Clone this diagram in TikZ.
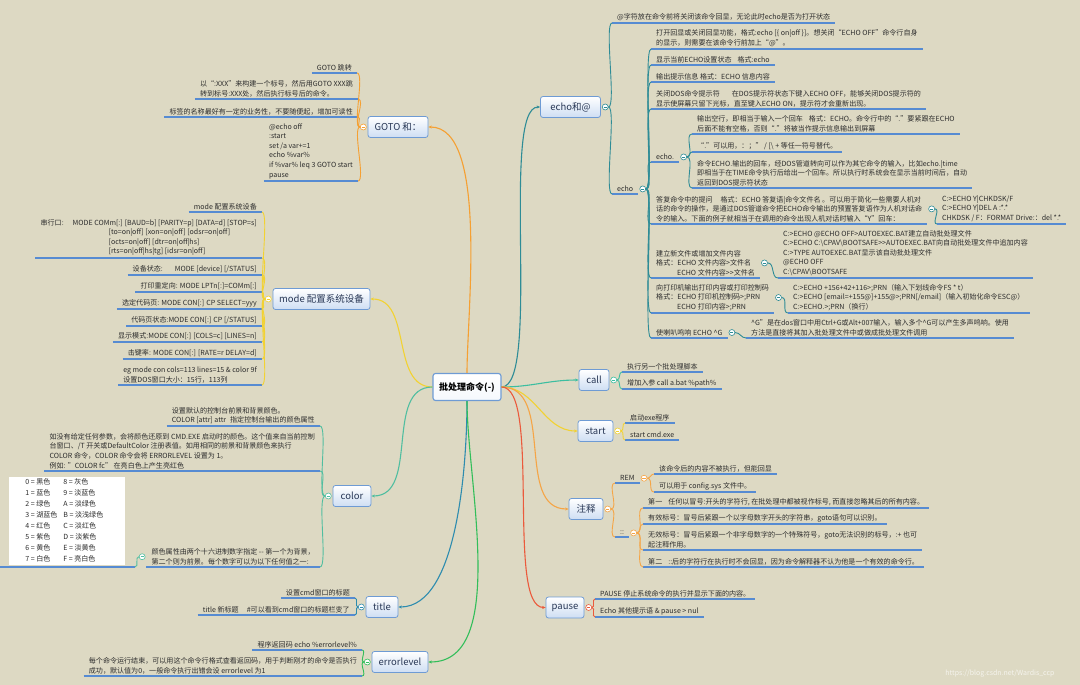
\documentclass[tikz,border=0pt]{standalone}
\usepackage{fontspec}
\setmainfont{Noto Sans CJK SC}
\usepackage{tikz}
\usetikzlibrary{positioning,arrows.meta}
\definecolor{bgcol}{RGB}{221,217,195}
\definecolor{ulcol}{RGB}{86,139,210}
\definecolor{boxline}{RGB}{110,155,212}
\definecolor{boxfill}{RGB}{206,222,243}
\definecolor{boxtext}{RGB}{40,55,85}
\definecolor{txtcol}{RGB}{45,45,45}
\definecolor{cecho}{RGB}{46,140,150}
\definecolor{cgoto}{RGB}{245,160,50}
\definecolor{cmode}{RGB}{242,210,50}
\definecolor{ccolor}{RGB}{80,190,160}
\definecolor{ctitle}{RGB}{45,140,175}
\definecolor{cerr}{RGB}{50,190,90}
\definecolor{ccall}{RGB}{60,190,160}
\definecolor{cstart}{RGB}{242,210,50}
\definecolor{cnote}{RGB}{245,165,70}
\definecolor{cpause}{RGB}{235,90,60}
\tikzset{
  topic/.style={draw=boxline,line width=0.8pt,rounded corners=2.5pt,top color=white,bottom color=boxfill,text=boxtext,font=\fontsize{9.5}{11}\selectfont,minimum height=21pt,inner sep=2pt},
  root/.style={topic,line width=1.1pt,bottom color=white!80!boxfill,text=black,font=\bfseries\fontsize{9}{11}\selectfont,minimum width=68pt,minimum height=27pt},
  leaf/.style={font=\fontsize{7.05}{9.6}\selectfont,text=txtcol,align=left,inner xsep=5pt,inner ysep=2pt,append after command={(\tikzlastnode.south west) edge[uline] (\tikzlastnode.south east)}},
  rleaf/.style={leaf,anchor=south west},
  lleaf/.style={leaf,anchor=south east},
  uline/.style={draw=ulcol,line width=1.1pt},
  fold/.style={circle,draw=#1,fill=white,line width=0.6pt,minimum size=6pt,inner sep=0pt,path picture={\draw[#1,line width=0.5pt] ([xshift=-1.6pt]path picture bounding box.center) -- ([xshift=1.6pt]path picture bounding box.center);}},
  br/.style={draw=#1,line width=0.9pt},
  trunk/.style={br=#1,line width=1.1pt,-{Stealth[length=3.5pt,width=3pt]}},
  rkid/.style={out=0,in=180,max distance=8pt},
  lkid/.style={out=180,in=0,max distance=8pt},
}

\begin{document}
\begin{tikzpicture}[x=1pt,y=1pt]
\fill[bgcol] (0,0) rectangle (1080,-685);
\useasboundingbox (0,0) rectangle (1080,-685);

\node[root] (ctr) at (467,-387) {批处理命令(-)};

\node[topic,minimum width=60pt] (echo) at (570.5,-107) {echo和@};
\node[topic,minimum width=60pt] (goto) at (398,-127) {GOTO 和：};
\node[topic,minimum width=97pt] (mode) at (321.5,-299) {mode 配置系统设备};
\node[topic,minimum width=38pt] (color) at (352,-496) {color};
\node[topic,minimum width=32pt] (title) at (382,-607) {title};
\node[topic,minimum width=56pt] (errlv) at (400,-662) {errorlevel};
\node[topic,minimum width=30pt] (call) at (594,-380) {call};
\node[topic,minimum width=35pt] (start) at (595.5,-431) {start};
\node[topic,minimum width=34pt] (note) at (586,-509) {注释};
\node[topic,minimum width=38pt] (pause) at (565,-607.5) {pause};

\draw[trunk=cecho] (ctr.east) to[out=0,in=180,max distance=40pt] (echo.west);
\draw[trunk=cgoto] (ctr.north) to[out=90,in=0,max distance=60pt] (goto.east);
\draw[trunk=cmode] (ctr.west) to[out=180,in=0] (mode.east);
\draw[trunk=ccolor] (ctr.west) to[out=180,in=0] (color.east);
\draw[trunk=ctitle] (ctr.south) to[out=-90,in=0,max distance=60pt] (title.east);
\draw[trunk=cerr] (ctr.south) to[out=-90,in=0,max distance=80pt] (errlv.east);
\draw[trunk=ccall] (ctr.east) to[out=0,in=180] (call.west);
\draw[trunk=cstart] (ctr.east) to[out=0,in=180] (start.west);
\draw[trunk=cnote] (ctr.east) to[out=0,in=180] (note.west);
\draw[trunk=cpause] (ctr.east) to[out=0,in=180,max distance=40pt] (pause.west);

\node[fold=cecho,right=1pt of echo] (fecho) {};
\node[fold=cgoto,left=1pt of goto] (fgoto) {};
\node[fold=cmode,left=1pt of mode] (fmode) {};
\node[fold=ccolor,left=1pt of color] (fcolor) {};
\node[fold=ctitle,left=1pt of title] (ftitle) {};
\node[fold=cerr,left=1pt of errlv] (ferr) {};
\node[fold=ccall,right=1pt of call] (fcall) {};
\node[fold=cstart,right=1pt of start] (fstart) {};
\node[fold=cnote,right=1pt of note] (fnote) {};
\node[fold=cpause,right=1pt of pause] (fpause) {};

% GOTO
\node[lleaf] (g1) at (357,-73) {GOTO 跳转};
\node[lleaf] (g2) at (358,-99) {以“:XXX”来构建一个标号，然后用GOTO XXX跳\\转到标号:XXX处，然后执行标号后的命令。};
\node[lleaf] (g3) at (358,-117) {标签的名称最好有一定的业务性，不要随便起，增加可读性};
\node[lleaf] (g4) at (358,-181) {@echo off\\:start\\set /a var+=1\\echo \%var\%\\if \%var\% leq 3 GOTO start\\pause};
\foreach \n in {g1,g2,g3,g4} \draw[br=cgoto,lkid] (fgoto.west) to (\n.south east);

% mode
\node[lleaf] (m1) at (262,-212) {mode 配置系统设备};
\node[lleaf] (m2) at (262,-258) {串行口:\hspace{9pt}MODE COMm[:] [BAUD=b] [PARITY=p] [DATA=d] [STOP=s]\\\hspace*{68pt}[to=on|off] [xon=on|off] [odsr=on|off]\\\hspace*{68pt}[octs=on|off] [dtr=on|off|hs]\\\hspace*{68pt}[rts=on|off|hs|tg] [idsr=on|off]};
\node[lleaf] (m3) at (262,-275) {设备状态:\hspace{12pt}MODE [device] [/STATUS]};
\node[lleaf] (m4) at (262,-292) {打印重定向: MODE LPTn[:]=COMm[:]};
\node[lleaf] (m5) at (262,-309) {选定代码页: MODE CON[:] CP SELECT=yyy};
\node[lleaf] (m6) at (262,-326) {代码页状态:MODE CON[:] CP [/STATUS]};
\node[lleaf] (m7) at (262,-342) {显示模式:MODE CON[:] [COLS=c] [LINES=n]};
\node[lleaf] (m8) at (262,-359) {击键率: MODE CON[:] [RATE=r DELAY=d]};
\node[lleaf] (m9) at (262,-385) {eg mode con cols=113 lines=15 \& color 9f\\设置DOS窗口大小：15行，113列};
\foreach \n in {m1,m2,m3,m4,m5,m6,m7,m8,m9} \draw[br=cmode,lkid] (fmode.west) to (\n.south east);

% color
\node[lleaf] (c1) at (320,-426) {设置默认的控制台前景和背景颜色。\\COLOR [attr] attr\hspace{4pt}指定控制台输出的颜色属性};
\node[lleaf] (c2) at (320,-471) {如没有给定任何参数，会将颜色还原到 CMD.EXE 启动时的颜色。这个值来自当前控制\\台窗口、/T 开关或DefaultColor 注册表值。如用相同的前景和背景颜色来执行\\COLOR 命令，COLOR 命令会将 ERRORLEVEL 设置为 1。\\例如: "COLOR fc" 在亮白色上产生亮红色};
\node[lleaf] (c3) at (320,-567) {颜色属性由两个十六进制数字指定 -{}- 第一个为背景，\\第二个则为前景。每个数字可以为以下任何值之一:};
\node[fold=ccolor,left=1pt of c3] (fc3) {};
\node[lleaf,minimum width=135pt] (ct) at (135,-567) {\setlength{\fboxsep}{0pt}\colorbox{white}{\fontsize{7.05}{11}\selectfont
  \begin{tabular}{@{\hspace{16pt}}l@{\hspace{6pt}}l@{\hspace{22pt}}}
  0 = 黑色 & 8 = 灰色\\ 1 = 蓝色 & 9 = 淡蓝色\\ 2 = 绿色 & A = 淡绿色\\ 3 = 湖蓝色 & B = 淡浅绿色\\
  4 = 红色 & C = 淡红色\\ 5 = 紫色 & D = 淡紫色\\ 6 = 黄色 & E = 淡黄色\\ 7 = 白色 & F = 亮白色
  \end{tabular}}};
\foreach \n in {c1,c2,c3} \draw[br=ccolor,lkid] (fcolor.west) to (\n.south east);
\draw[br=ccolor,lkid] (fc3.west) to (ct.south east);

% title, errorlevel
\node[lleaf] (t1) at (355,-598) {设置cmd窗口的标题};
\node[lleaf] (t2) at (355,-615) {title 新标题\hspace{8pt}\#可以看到cmd窗口的标题栏变了};
\foreach \n in {t1,t2} \draw[br=ctitle,lkid] (ftitle.west) to (\n.south east);
\node[lleaf] (r1) at (362,-650) {程序返回码 echo \%errorlevel\%};
\node[lleaf] (r2) at (362,-676) {每个命令运行结束，可以用这个命令行格式查看返回码，用于判断刚才的命令是否执行\\成功，默认值为0，一般命令执行出错会设 errorlevel 为1};
\foreach \n in {r1,r2} \draw[br=cerr,lkid] (ferr.west) to (\n.south east);

% echo
\node[rleaf] (ea0) at (612,-23) {@字符放在命令前将关闭该命令回显，无论此时echo是否为打开状态};
\node[rleaf] (eecho) at (612,-194) {echo};
\node[fold=cecho,right=1pt of eecho] (fe) {};
\foreach \n in {ea0,eecho} \draw[br=cecho,rkid] (fecho.east) to (\n.south west);
\node[rleaf] (ea) at (651,-49) {打开回显或关闭回显功能，格式:echo [\{ on|off \}]。想关闭“ECHO OFF”命令行自身\\的显示，则需要在该命令行前加上“@”。};
\node[rleaf] (eb) at (651,-65) {显示当前ECHO设置状态\hspace{6pt}格式:echo};
\node[rleaf] (ec) at (651,-82) {输出提示信息 格式：ECHO 信息内容};
\node[rleaf] (ed) at (651,-109) {关闭DOS命令提示符\hspace{12pt}在DOS提示符状态下键入ECHO OFF，能够关闭DOS提示符的\\显示使屏幕只留下光标，直至键入ECHO ON，提示符才会重新出现。};
\node[rleaf] (edot) at (651,-162) {echo.};
\node[fold=cecho,right=1pt of edot] (fdot) {};
\node[rleaf] (d1) at (692,-134) {输出空行，即相当于输入一个回车\hspace{6pt}格式：ECHO。命令行中的“.”要紧跟在ECHO\\后面不能有空格，否则“.”将被当作提示信息输出到屏幕};
\node[rleaf] (d2) at (692,-152) {“.”可以用，：；” / [\textbackslash{} + 等任一符号替代。};
\node[rleaf] (d3) at (692,-188) {命令ECHO.输出的回车，经DOS管道转向可以作为其它命令的输入，比如echo.|time\\即相当于在TIME命令执行后给出一个回车。所以执行时系统会在显示当前时间后，自动\\返回到DOS提示符状态};
\foreach \n in {d1,d2,d3} \draw[br=cecho,rkid] (fdot.east) to (\n.south west);
\node[rleaf] (ef) at (651,-224) {答复命令中的提问\hspace{8pt}格式：ECHO 答复语|命令文件名 。可以用于简化一些需要人机对\\话的命令的操作，是通过DOS管道命令把ECHO命令输出的预置答复语作为人机对话命\\令的输入。下面的例子就相当于在调用的命令出现人机对话时输入“Y”回车：};
\node[fold=cecho,right=1pt of ef] (fef) {};
\node[rleaf] (ef1) at (937,-224) {C:>ECHO Y|CHKDSK/F\\C:>ECHO Y|DEL A :*.*\\CHKDSK / F：FORMAT Drive:：del *.*};
\node[rleaf] (eg) at (651,-278) {建立新文件或增加文件内容\\格式：ECHO 文件内容>文件名\\\hspace*{21pt}ECHO 文件内容>{}>文件名};
\node[fold=cecho,right=1pt of eg] (feg) {};
\node[rleaf] (eg1) at (778,-278) {C:>ECHO @ECHO OFF>AUTOEXEC.BAT建立自动批处理文件\\C:>ECHO C:\textbackslash CPAV\textbackslash BOOTSAFE>{}>AUTOEXEC.BAT向自动批处理文件中追加内容\\C:>TYPE AUTOEXEC.BAT显示该自动批处理文件\\@ECHO OFF\\C:\textbackslash CPAV\textbackslash BOOTSAFE};
\node[rleaf] (eh) at (651,-313) {向打印机输出打印内容或打印控制码\\格式：ECHO 打印机控制码>;PRN\\\hspace*{21pt}ECHO 打印内容>;PRN};
\node[fold=cecho,right=1pt of eh] (feh) {};
\node[rleaf] (eh1) at (788,-313) {C:>ECHO +156+42+116>;PRN（输入下划线命令FS * t）\\C:>ECHO [email=+155@]+155@>;PRN[/email]（输入初始化命令ESC@）\\C:>ECHO.>;PRN（换行）};
\node[rleaf] (ei) at (651,-338) {使喇叭鸣响 ECHO \textasciicircum G};
\node[fold=cecho,right=1pt of ei] (fei) {};
\node[rleaf] (ei1) at (746,-338) {\textasciicircum G”是在dos窗口中用Ctrl+G或Alt+007输入，输入多个\textasciicircum G可以产生多声鸣响。使用\\方法是直接将其加入批处理文件中或做成批处理文件调用};
\foreach \n in {ea,eb,ec,ed,edot,ef,eg,eh,ei} \draw[br=cecho,rkid] (fe.east) to (\n.south west);
\draw[br=cecho,rkid] (fef.east) to (ef1.south west);
\draw[br=cecho,rkid] (feg.east) to (eg1.south west);
\draw[br=cecho,rkid] (feh.east) to (eh1.south west);
\draw[br=cecho,rkid] (fei.east) to (ei1.south west);

% call, start
\node[rleaf] (k1) at (622,-372) {执行另一个批处理脚本};
\node[rleaf] (k2) at (622,-389) {增加入参 call a.bat \%path\%};
\foreach \n in {k1,k2} \draw[br=ccall,rkid] (fcall.east) to (\n.south west);
\node[rleaf] (s1) at (625,-423) {启动exe程序};
\node[rleaf] (s2) at (625,-440) {start cmd.exe};
\foreach \n in {s1,s2} \draw[br=cstart,rkid] (fstart.east) to (\n.south west);

% 注释
\node[rleaf] (zrem) at (615,-483) {REM};
\node[fold=cnote,right=1pt of zrem] (frem) {};
\node[rleaf] (zr1) at (654,-474) {该命令后的内容不被执行，但能回显};
\node[rleaf] (zr2) at (654,-492) {可以用于 config.sys 文件中。};
\node[rleaf] (zcc) at (615,-537) {::};
\node[fold=cnote,right=1pt of zcc] (fcc) {};
\node[rleaf] (zc1) at (643,-508) {第一\hspace{6pt}任何以冒号:开头的字符行, 在批处理中都被视作标号, 而直接忽略其后的所有内容。};
\node[rleaf] (zc2) at (643,-524) {有效标号：冒号后紧跟一个以字母数字开头的字符串，goto语句可以识别。};
\node[rleaf] (zc3) at (643,-550) {无效标号：冒号后紧跟一个非字母数字的一个特殊符号，goto无法识别的标号，:+ 也可\\起注释作用。};
\node[rleaf] (zc4) at (643,-567) {第二\hspace{6pt}::后的字符行在执行时不会回显，因为命令解释器不认为他是一个有效的命令行。};
\foreach \n in {zrem,zcc} \draw[br=cnote,rkid] (fnote.east) to (\n.south west);
\foreach \n in {zr1,zr2} \draw[br=cnote,rkid] (frem.east) to (\n.south west);
\foreach \n in {zc1,zc2,zc3,zc4} \draw[br=cnote,rkid] (fcc.east) to (\n.south west);

% pause
\node[rleaf] (p1) at (595,-599) {PAUSE 停止系统命令的执行并显示下面的内容。};
\node[rleaf] (p2) at (595,-617) {Echo 其他提示语 \& pause > nul};
\foreach \n in {p1,p2} \draw[br=cpause,rkid] (fpause.east) to (\n.south west);

\node[font=\fontsize{7}{8}\selectfont,text=white,opacity=0.7] (wm) at (1000,-674) {https://blog.csdn.net/Wardis\_ccp};
\end{tikzpicture}
\end{document}
